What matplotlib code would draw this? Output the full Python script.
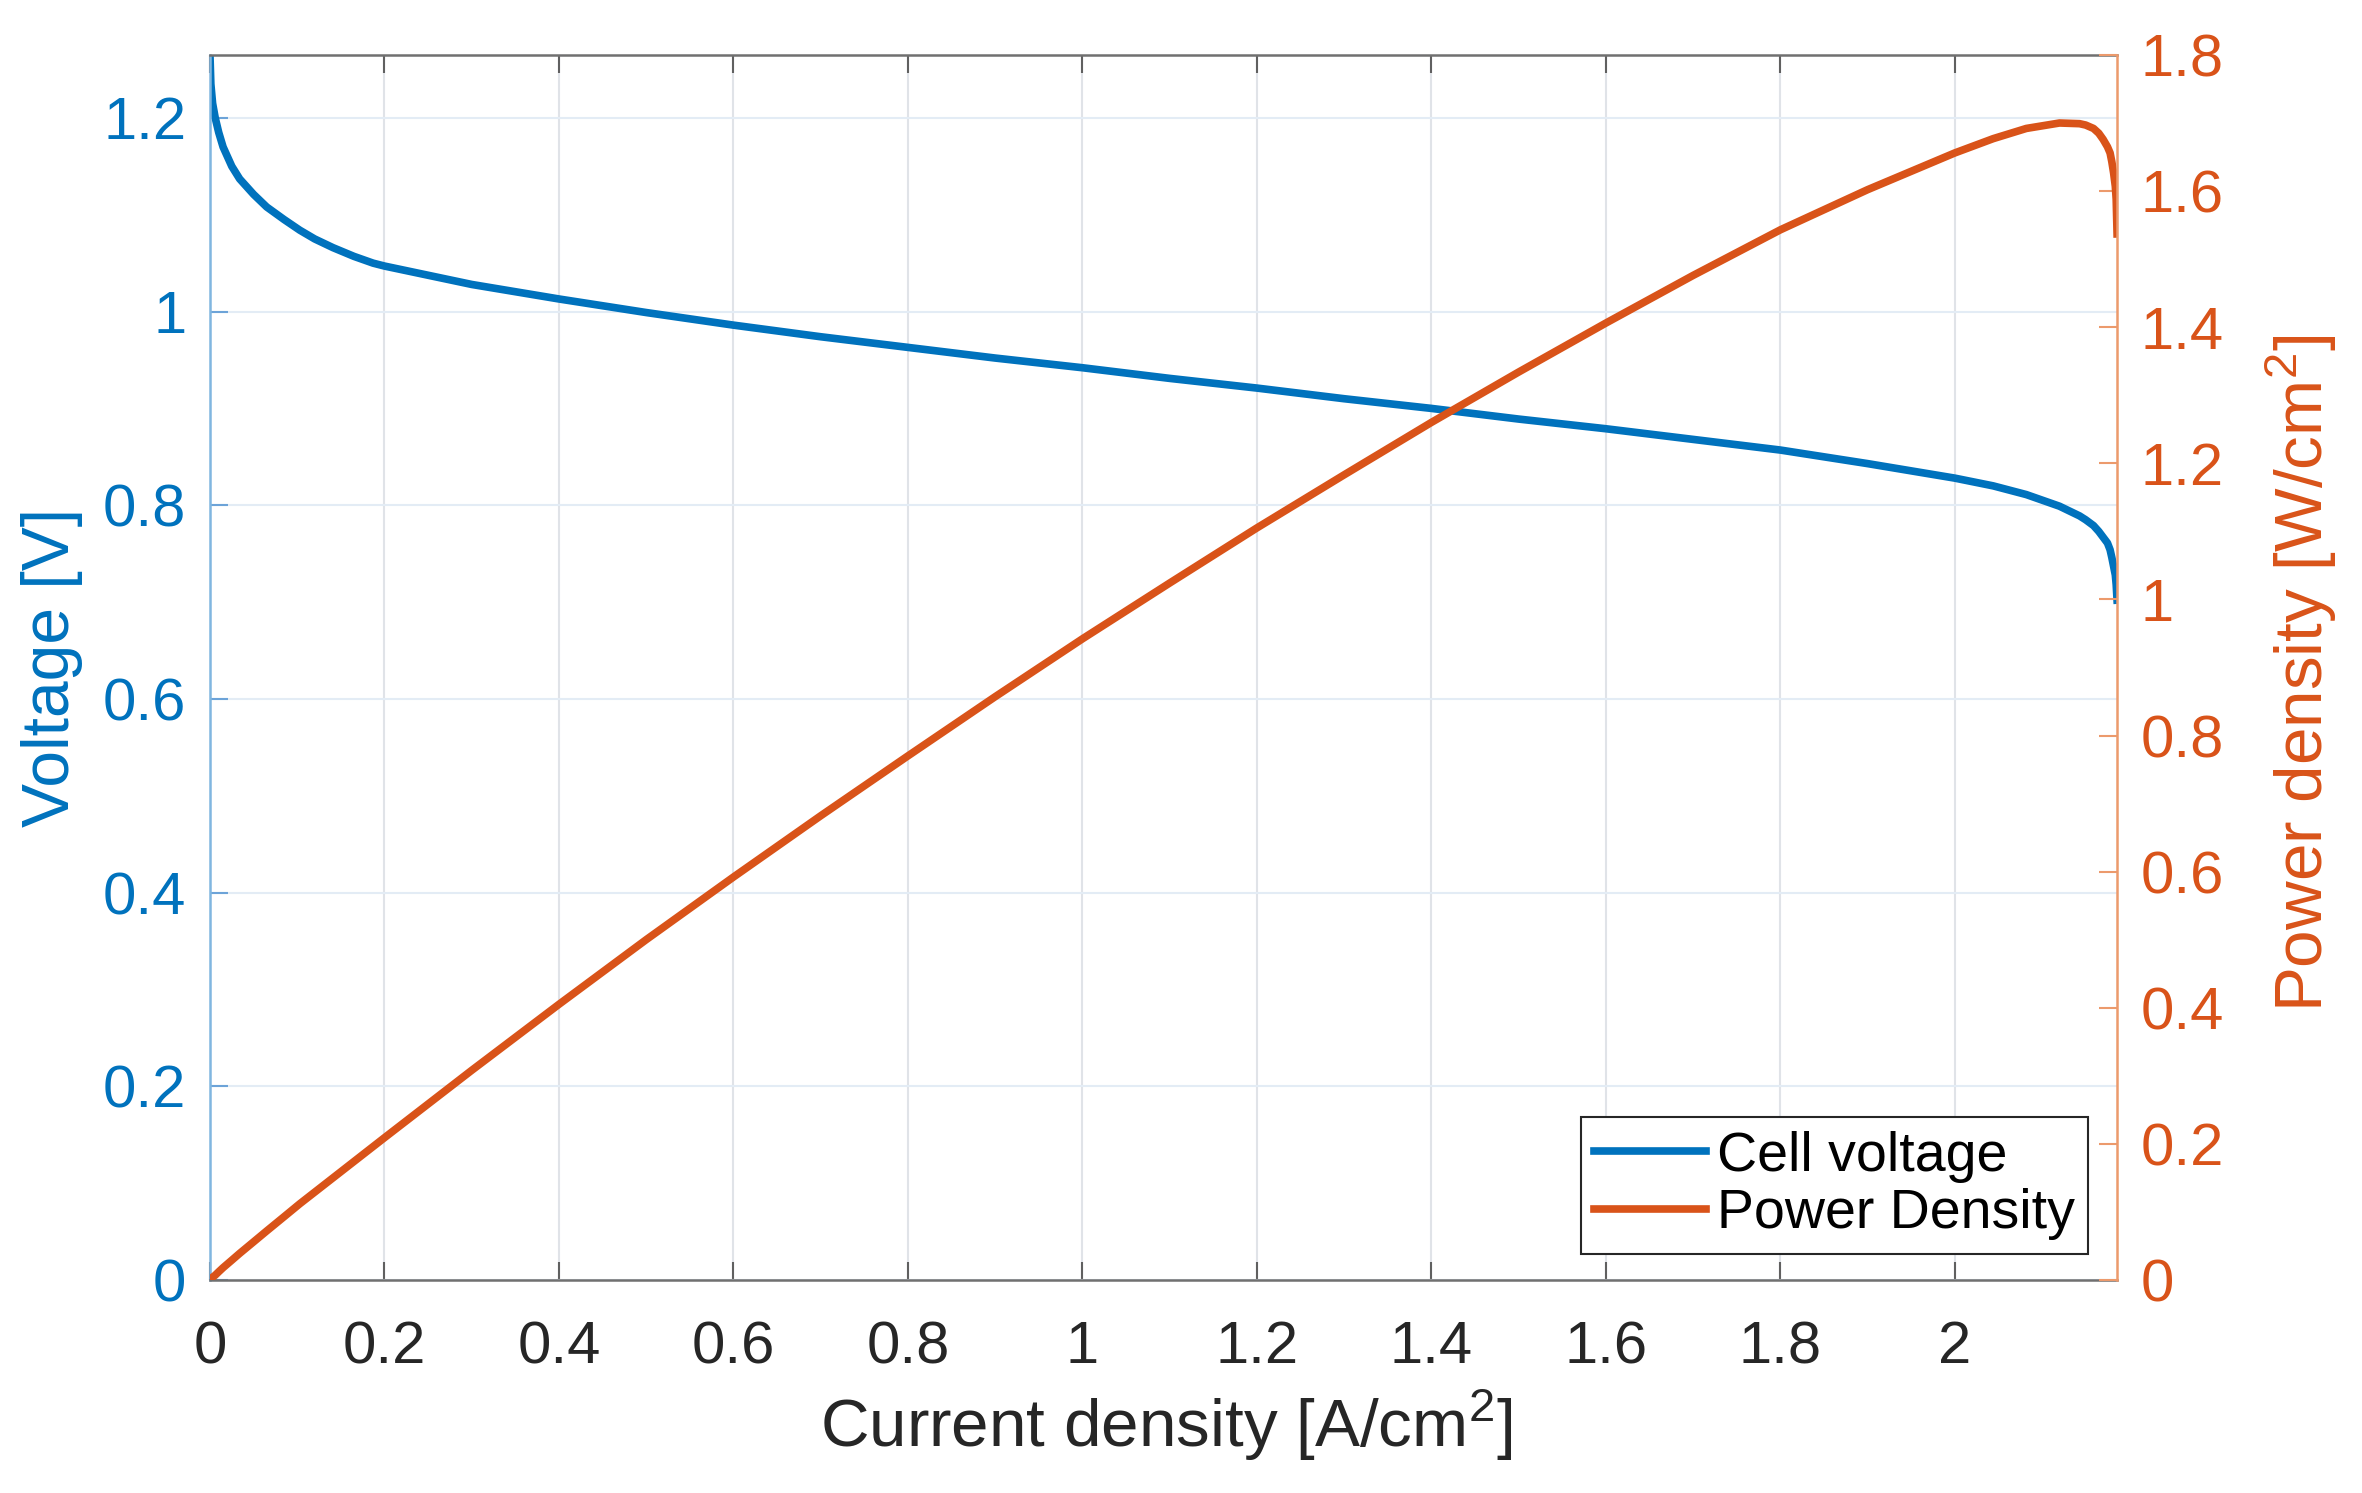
import matplotlib
matplotlib.use('Agg')
import matplotlib.pyplot as plt
from matplotlib.ticker import FuncFormatter

plt.rcParams['font.family'] = ['Liberation Sans', 'DejaVu Sans']
plt.rcParams['mathtext.default'] = 'regular'

current_density = [0.000, 0.001, 0.003, 0.006, 0.010, 0.015, 0.025, 0.034, 0.050, 0.065,
                   0.085, 0.103, 0.120, 0.141, 0.165, 0.187, 0.200, 0.300, 0.400, 0.500,
                   0.600, 0.700, 0.800, 0.900, 1.000, 1.100, 1.200, 1.300, 1.400, 1.500,
                   1.600, 1.700, 1.800, 1.900, 2.000, 2.044, 2.082, 2.120, 2.143, 2.150,
                   2.159, 2.165, 2.170, 2.175, 2.178, 2.180, 2.182, 2.184, 2.185, 2.186]
cell_voltage = [1.265, 1.235, 1.215, 1.200, 1.185, 1.170, 1.150, 1.137, 1.121, 1.108,
                1.095, 1.084, 1.075, 1.066, 1.057, 1.050, 1.047, 1.028, 1.013, 0.999,
                0.986, 0.974, 0.963, 0.952, 0.942, 0.931, 0.921, 0.910, 0.900, 0.889,
                0.879, 0.868, 0.857, 0.843, 0.828, 0.820, 0.811, 0.799, 0.789, 0.785,
                0.779, 0.773, 0.767, 0.761, 0.754, 0.746, 0.737, 0.728, 0.718, 0.702]
power_density = [0.000, 0.001, 0.004, 0.007, 0.012, 0.018, 0.029, 0.039, 0.056, 0.072,
                 0.093, 0.112, 0.129, 0.150, 0.174, 0.196, 0.209, 0.308, 0.405, 0.500,
                 0.592, 0.682, 0.770, 0.857, 0.942, 1.024, 1.105, 1.183, 1.260, 1.334,
                 1.406, 1.476, 1.543, 1.602, 1.656, 1.677, 1.692, 1.700, 1.699, 1.697,
                 1.692, 1.685, 1.676, 1.665, 1.656, 1.643, 1.627, 1.607, 1.588, 1.537]

x_ticks = [0, 0.2, 0.4, 0.6, 0.8, 1.0, 1.2, 1.4, 1.6, 1.8, 2.0]
v_ticks = [0, 0.2, 0.4, 0.6, 0.8, 1.0, 1.2]
p_ticks = [0, 0.2, 0.4, 0.6, 0.8, 1.0, 1.2, 1.4, 1.6, 1.8]

BLUE = '#0072BD'
ORANGE = '#D95319'
DARK = '#262626'

fig = plt.figure(figsize=(23.62, 14.93), dpi=100)
ax = fig.add_axes([0.0889, 0.1427, 0.8074, 0.8205])
ax2 = ax.twinx()

l1, = ax.plot(current_density, cell_voltage, color=BLUE, lw=5.5,
              solid_joinstyle='round', label='Cell voltage')
l2, = ax2.plot(current_density, power_density, color=ORANGE, lw=5.5,
               solid_joinstyle='round', label='Power Density')

ax.set_xlim(0, 2.186)
ax.set_ylim(0, 1.265)
ax2.set_ylim(0, 1.8)

fmt = FuncFormatter(lambda v, p: '%g' % v)
ax.set_xticks(x_ticks)
ax.set_yticks(v_ticks)
ax2.set_yticks(p_ticks)
ax.xaxis.set_major_formatter(fmt)
ax.yaxis.set_major_formatter(fmt)
ax2.yaxis.set_major_formatter(fmt)

# grid: vertical grey, horizontal bluish (left axis only)
ax.grid(axis='x', color='#e0e3e8', lw=1.5)
ax.grid(axis='y', color='#e3ecf5', lw=1.5)
ax.set_axisbelow(True)

# spines
ax.spines['right'].set_visible(False)
for s in ['top', 'bottom']:
    ax.spines[s].set_color('#707070')
    ax.spines[s].set_linewidth(1.8)
ax.spines['left'].set_color('#80b6e0')
ax.spines['left'].set_linewidth(1.8)
for s in ['left', 'top', 'bottom']:
    ax2.spines[s].set_visible(False)
ax2.spines['right'].set_color('#ec9a6c')
ax2.spines['right'].set_linewidth(1.8)

# ticks
ax.tick_params(axis='x', direction='in', length=13, width=1.5, color='#606060',
               top=True, labelsize=43, labelcolor=DARK, pad=29)
ax.tick_params(axis='y', direction='in', length=13, width=1.5, color='#6ca3d8',
               labelsize=43, labelcolor=BLUE, pad=17)
ax2.tick_params(axis='y', direction='in', length=13, width=1.5, color='#ec9a6c',
                labelsize=43, labelcolor=ORANGE, pad=17)

ax.set_xlabel('Current density [A/cm$^{2}$]', fontsize=48.5, color=DARK)
ax.xaxis.set_label_coords(0.5015, -0.088)
ax.set_ylabel('Voltage [V]', fontsize=47.5, color=BLUE)
ax.yaxis.set_label_coords(-0.0666, 0.5)
ax2.set_ylabel('Power density [W/cm$^{2}$]', fontsize=48.5, color=ORANGE)
ax2.yaxis.set_label_coords(1.077, 0.495)

leg = ax2.legend(handles=[l1, l2], loc='lower right', bbox_to_anchor=(0.985, 0.0212),
                 borderaxespad=0, fontsize=40, fancybox=False, framealpha=1,
                 edgecolor=DARK, handlelength=2.0, handletextpad=0.2,
                 borderpad=0.25, labelspacing=0.1)
leg.get_frame().set_linewidth(1.5)

fig.savefig('out.png', dpi=100)
